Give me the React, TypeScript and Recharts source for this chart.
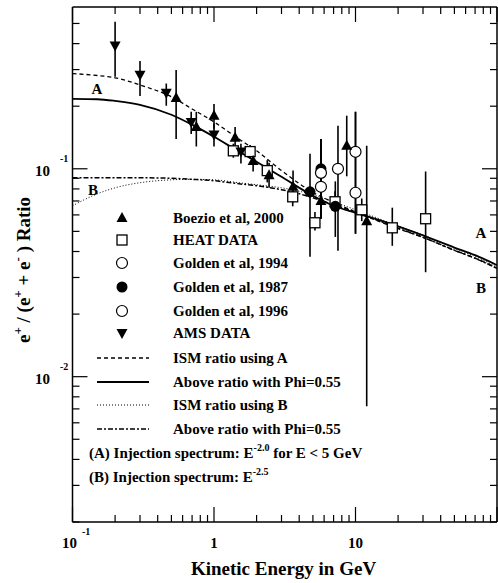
import React from "react";
import { ComposedChart, XAxis, YAxis, Scatter, Line, ErrorBar, ReferenceLine } from "recharts";

const W = 498;
const H = 583;
const PLOT_LEFT = 72.5;
const PLOT_RIGHT = 497;
const PLOT_TOP = 7;
const PLOT_BOTTOM = 522;
const FONT = "'Liberation Serif', 'Times New Roman', serif";

const xTicks = [
  0.1, 0.2, 0.3, 0.4, 0.5, 0.6, 0.7, 0.8, 0.9, 1, 2, 3, 4, 5, 6, 7, 8, 9, 10, 20, 30, 40, 50, 60, 70, 80,
  90, 100,
];
const yTicks = [
  0.002, 0.003, 0.004, 0.005, 0.006, 0.007, 0.008, 0.009, 0.01, 0.02, 0.03, 0.04, 0.05, 0.06, 0.07, 0.08,
  0.09, 0.1, 0.2, 0.3, 0.4, 0.5,
];

// measurements: [energy GeV, ratio, lower end of bar, upper end of bar]
const boezio = [
  [0.54, 0.219, 0.139, 0.299],
  [0.75, 0.159, 0.128, 0.188],
  [1.0, 0.18, 0.156, 0.205],
  [1.41, 0.141, 0.118, 0.159],
  [1.89, 0.109, 0.097, 0.116],
  [2.45, 0.093, 0.081, 0.107],
  [3.62, 0.082, 0.069, 0.098],
  [5.7, 0.07, 0.062, 0.08],
  [8.67, 0.129, 0.092, 0.18],
  [12.0, 0.056, 0.0072, 0.129],
];
const heat = [
  [1.37, 0.122, 0.113, 0.132],
  [1.8, 0.121, 0.112, 0.13],
  [2.38, 0.098, 0.086, 0.11],
  [3.6, 0.0733, 0.066, 0.082],
  [5.17, 0.055, 0.0505, 0.062],
  [7.17, 0.0694, 0.062, 0.078],
  [11.07, 0.0635, 0.056, 0.072],
  [18.2, 0.052, 0.0426, 0.065],
  [31.3, 0.0575, 0.0318, 0.097],
];
const golden1994 = [
  [5.7, 0.0956, 0.0575, 0.139],
  [7.52, 0.1, 0.0403, 0.161],
  [10.0, 0.1207, 0.0487, 0.188],
];
const golden1987 = [
  [4.77, 0.0775, 0.0377, 0.118],
  [5.7, 0.1, 0.0575, 0.139],
  [7.2, 0.066, 0.047, 0.087],
];
const golden1996 = [
  [5.7, 0.0819, 0.0575, 0.139],
  [10.0, 0.0767, 0.0487, 0.188],
];
const ams = [
  [0.2, 0.392, 0.277, 0.51],
  [0.3, 0.283, 0.224, 0.33],
  [0.46, 0.232, 0.201, 0.257],
  [0.69, 0.168, 0.147, 0.188],
  [1.0, 0.146, 0.128, 0.165],
  [1.55, 0.121, 0.106, 0.132],
];

// model curves
const curveE = [0.1, 0.15, 0.2, 0.3, 0.5, 0.7, 1, 1.5, 2, 3, 5, 7, 10, 15, 20, 30, 50, 70, 100];
const ismA = [
  0.287, 0.281, 0.274, 0.253, 0.222, 0.194, 0.168, 0.139, 0.122, 0.098, 0.077, 0.069, 0.062, 0.0555, 0.0515,
  0.0468, 0.0405, 0.0372, 0.0332,
];
const modA = [
  0.217, 0.216, 0.212, 0.203, 0.182, 0.163, 0.1425, 0.121, 0.108, 0.0915, 0.0742, 0.0664, 0.0614, 0.0565,
  0.0528, 0.0478, 0.0418, 0.0384, 0.0344,
];
const ismB = [
  0.0664, 0.0758, 0.081, 0.0857, 0.0885, 0.089, 0.0885, 0.0857, 0.0838, 0.081, 0.075, 0.0694, 0.0635, 0.0572,
  0.053, 0.048, 0.0415, 0.0379, 0.0336,
];
const modB = [
  0.0905, 0.0905, 0.0905, 0.0905, 0.09, 0.089, 0.0876, 0.0847, 0.0829, 0.0793, 0.0726, 0.0671, 0.0621, 0.0558,
  0.0518, 0.0468, 0.0406, 0.0371, 0.0332,
];

const toPoints = (rows: number[][]) =>
  rows.map(([x, y, lo, hi]) => ({ x, y, err: [y - lo, hi - y] }));
const toCurve = (ys: number[]) => curveE.map((x, i) => ({ x, y: ys[i] }));

const isDecade = (v: number) => Math.abs(Math.log10(v) - Math.round(Math.log10(v))) < 1e-6;

const TriUp = ({ cx, cy }: any) => (
  <polygon points={`${cx},${cy - 6} ${cx - 5.5},${cy + 4} ${cx + 5.5},${cy + 4}`} fill="#000" />
);
const TriDown = ({ cx, cy }: any) => (
  <polygon points={`${cx - 5.5},${cy - 4} ${cx + 5.5},${cy - 4} ${cx},${cy + 6}`} fill="#000" />
);
const OpenSquare = ({ cx, cy }: any) => (
  <rect x={cx - 5} y={cy - 5} width={10} height={10} fill="#fff" stroke="#000" strokeWidth={1.3} />
);
const OpenCircle = ({ cx, cy }: any) => (
  <circle cx={cx} cy={cy} r={5.5} fill="#fff" stroke="#000" strokeWidth={1.2} />
);
const DotCircle = ({ cx, cy }: any) => <circle cx={cx} cy={cy} r={5.5} fill="#000" />;

const XTick = ({ x, payload }: any) => {
  const v = payload.value;
  const major = isDecade(v);
  const len = major ? 15 : 7;
  let label = null;
  if (v === 0.1) {
    label = (
      <g>
        <text x={x - 10.5} y={548} fontSize={15}>10</text>
        <text x={x + 9.5} y={535} fontSize={10}>-1</text>
      </g>
    );
  } else if (v === 1 || v === 10) {
    label = (
      <text x={x} y={548} fontSize={15} textAnchor="middle">
        {v}
      </text>
    );
  }
  return (
    <g fontFamily={FONT} fontWeight="bold" fill="#000">
      <line x1={x} x2={x} y1={PLOT_BOTTOM} y2={PLOT_BOTTOM - len} stroke="#000" strokeWidth={1.2} />
      <line x1={x} x2={x} y1={PLOT_TOP} y2={PLOT_TOP + len} stroke="#000" strokeWidth={1.2} />
      {label}
    </g>
  );
};

const YTick = ({ y, payload }: any) => {
  const v = payload.value;
  const major = isDecade(v);
  const len = major ? 15 : 7;
  const exp = Math.round(Math.log10(v));
  return (
    <g fontFamily={FONT} fontWeight="bold" fill="#000">
      <line x1={PLOT_LEFT} x2={PLOT_LEFT + len} y1={y} y2={y} stroke="#000" strokeWidth={1.2} />
      <line x1={PLOT_RIGHT} x2={PLOT_RIGHT - len} y1={y} y2={y} stroke="#000" strokeWidth={1.2} />
      {major && (
        <g>
          <text x={35} y={y + 7} fontSize={15}>10</text>
          <text x={60} y={y - 7} fontSize={10}>{exp}</text>
        </g>
      )}
    </g>
  );
};

const markerLegend = [
  { label: "Boezio et al, 2000", Shape: TriUp },
  { label: "HEAT DATA", Shape: OpenSquare },
  { label: "Golden et al, 1994", Shape: OpenCircle },
  { label: "Golden et al, 1987", Shape: DotCircle },
  { label: "Golden et al, 1996", Shape: OpenCircle },
  { label: "AMS DATA", Shape: TriDown },
];
const markerRowsY = [218, 240, 263, 287, 311, 333];

const lineLegend = [
  { label: "ISM ratio using A", dash: "4 3", width: 1.3 },
  { label: "Above ratio with Phi=0.55", dash: undefined, width: 1.8 },
  { label: "ISM ratio using B", dash: "1 2", width: 1 },
  { label: "Above ratio with Phi=0.55", dash: "5 2 2 2", width: 1.5 },
];
const lineRowsY = [358, 382, 405, 429];

const Overlay = () => (
  <svg
    width={W}
    height={H}
    style={{ position: "absolute", left: 0, top: 0, pointerEvents: "none" }}
    fontFamily={FONT}
    fontWeight="bold"
  >
    {markerLegend.map(({ label, Shape }, i) => (
      <g key={label + i}>
        <Shape cx={122} cy={markerRowsY[i]} />
        <text x={173} y={markerRowsY[i] + 5} fontSize={15}>
          {label}
        </text>
      </g>
    ))}
    {lineLegend.map(({ label, dash, width }, i) => (
      <g key={"l" + i}>
        <line
          x1={97}
          x2={149}
          y1={lineRowsY[i]}
          y2={lineRowsY[i]}
          stroke="#000"
          strokeWidth={width}
          strokeDasharray={dash}
        />
        <text x={173} y={lineRowsY[i] + 5} fontSize={15}>
          {label}
        </text>
      </g>
    ))}
    <text x={89} y={458} fontSize={15}>
      (A) Injection spectrum: E<tspan dy={-7} fontSize={10}>-2.0</tspan>
      <tspan dy={7}> for E &lt; 5 GeV</tspan>
    </text>
    <text x={89} y={482} fontSize={15}>
      (B) Injection spectrum: E<tspan dy={-7} fontSize={10}>-2.5</tspan>
    </text>
    <text x={97} y={94} fontSize={15} textAnchor="middle">A</text>
    <text x={93} y={195} fontSize={15} textAnchor="middle">B</text>
    <text x={481} y={238} fontSize={15} textAnchor="middle">A</text>
    <text x={481} y={293} fontSize={15} textAnchor="middle">B</text>
    <text x={283.5} y={575} fontSize={19} textAnchor="middle">
      Kinetic Energy in GeV
    </text>
    <text transform="rotate(-90)" x={-270} y={30} fontSize={19} textAnchor="middle">
      e<tspan dy={-8} fontSize={13}>+</tspan>
      <tspan dy={8}> / (e</tspan>
      <tspan dy={-8} fontSize={13}>+</tspan>
      <tspan dy={8}> + e</tspan>
      <tspan dy={-8} fontSize={13}>-</tspan>
      <tspan dy={8}> ) Ratio</tspan>
    </text>
  </svg>
);

export default function App() {
  return (
    <div style={{ position: "absolute", left: 0, top: 0, width: W, height: H, background: "#fff" }}>
      <ComposedChart
        width={W}
        height={H}
        margin={{ top: PLOT_TOP, left: PLOT_LEFT - 1, right: W - PLOT_RIGHT, bottom: H - PLOT_BOTTOM - 1 }}
      >
        <XAxis
          type="number"
          dataKey="x"
          scale="log"
          domain={[0.1, 100]}
          allowDataOverflow
          ticks={xTicks}
          interval={0}
          tick={<XTick />}
          tickLine={false}
          tickSize={0}
          tickMargin={0}
          height={1}
          axisLine={{ stroke: "#000", strokeWidth: 1.5 }}
        />
        <YAxis
          type="number"
          dataKey="y"
          scale="log"
          domain={[0.002, 0.6]}
          allowDataOverflow
          ticks={yTicks}
          interval={0}
          tick={<YTick />}
          tickLine={false}
          tickSize={0}
          tickMargin={0}
          width={1}
          axisLine={{ stroke: "#000", strokeWidth: 1.5 }}
        />
        <ReferenceLine y={0.6} stroke="#000" strokeWidth={1.5} />
        <ReferenceLine x={100} stroke="#000" strokeWidth={1.5} />

        <Line data={toCurve(ismA)} dataKey="y" type="monotone" dot={false} stroke="#000" strokeWidth={1.3} strokeDasharray="4 3" isAnimationActive={false} />
        <Line data={toCurve(modA)} dataKey="y" type="monotone" dot={false} stroke="#000" strokeWidth={1.8} isAnimationActive={false} />
        <Line data={toCurve(ismB)} dataKey="y" type="monotone" dot={false} stroke="#000" strokeWidth={1} strokeDasharray="1 2" isAnimationActive={false} />
        <Line data={toCurve(modB)} dataKey="y" type="monotone" dot={false} stroke="#000" strokeWidth={1.5} strokeDasharray="5 2 2 2" isAnimationActive={false} />

        <Scatter data={toPoints(heat)} shape={OpenSquare} isAnimationActive={false}>
          <ErrorBar dataKey="err" direction="y" width={0} stroke="#000" strokeWidth={1.6} />
        </Scatter>
        <Scatter data={toPoints(golden1987)} shape={DotCircle} isAnimationActive={false}>
          <ErrorBar dataKey="err" direction="y" width={0} stroke="#000" strokeWidth={1.6} />
        </Scatter>
        <Scatter data={toPoints(golden1994)} shape={OpenCircle} isAnimationActive={false}>
          <ErrorBar dataKey="err" direction="y" width={0} stroke="#000" strokeWidth={1.6} />
        </Scatter>
        <Scatter data={toPoints(golden1996)} shape={OpenCircle} isAnimationActive={false}>
          <ErrorBar dataKey="err" direction="y" width={0} stroke="#000" strokeWidth={1.6} />
        </Scatter>
        <Scatter data={toPoints(ams)} shape={TriDown} isAnimationActive={false}>
          <ErrorBar dataKey="err" direction="y" width={0} stroke="#000" strokeWidth={1.6} />
        </Scatter>
        <Scatter data={toPoints(boezio)} shape={TriUp} isAnimationActive={false}>
          <ErrorBar dataKey="err" direction="y" width={0} stroke="#000" strokeWidth={1.6} />
        </Scatter>
      </ComposedChart>
      <Overlay />
    </div>
  );
}
